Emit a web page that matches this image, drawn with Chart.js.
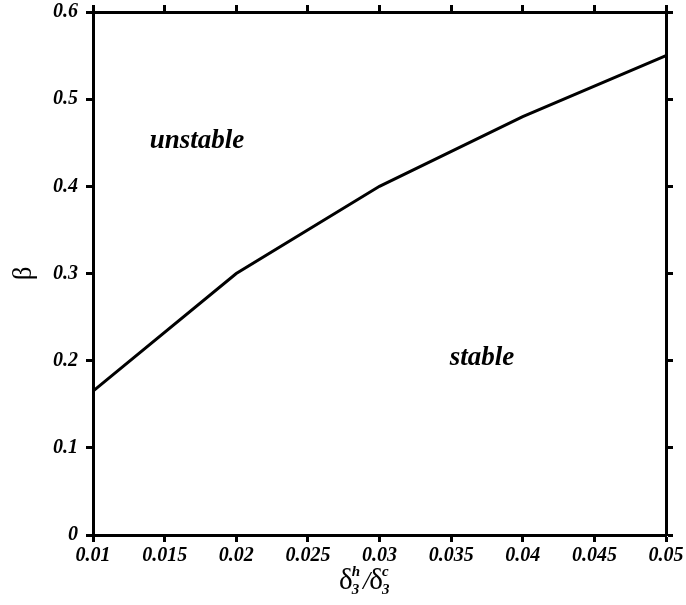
<!DOCTYPE html>
<html>
<head>
<meta charset="utf-8">
<script src="https://cdn.jsdelivr.net/npm/chart.js@4"></script>
<style>
  html, body { margin: 0; padding: 0; background: #fff; }
  #wrap { width: 686px; height: 605px; position: relative; }
</style>
</head>
<body>
<div id="wrap"><canvas id="chart"></canvas></div>
<script>
// boundary curve between the two regions
const ratioValues = [0.01, 0.02, 0.03, 0.04, 0.05];
const betaValues = [0.165, 0.30, 0.40, 0.48, 0.55];

const xTickValues = [0.01, 0.015, 0.02, 0.025, 0.03, 0.035, 0.04, 0.045, 0.05];
const xTickLabels = ['0.01', '0.015', '0.02', '0.025', '0.03', '0.035', '0.04', '0.045', '0.05'];
const yTickValues = [0, 0.1, 0.2, 0.3, 0.4, 0.5, 0.6];
const yTickLabels = ['0', '0.1', '0.2', '0.3', '0.4', '0.5', '0.6'];

const regionLabels = ['unstable', 'stable'];
const regionX = [0.01726, 0.03716];
const regionY = [0.452, 0.203];

const SERIF = "'Liberation Serif', 'Times New Roman', serif";
const tickFont = { family: SERIF, size: 20, style: 'italic', weight: 'bold' };

function setTicks(values) {
    return scale => { scale.ticks = values.map(v => ({ value: v })); };
}

// fixed box sizes, no extra label overflow padding
function fixSize(w, h) {
    return s => {
        if (w !== null) s.width = w;
        if (h !== null) s.height = h;
        s.paddingTop = 0;
        s.paddingBottom = 0;
        s.paddingLeft = 0;
        s.paddingRight = 0;
    };
}

const gridOpts = {
    drawOnChartArea: false,
    drawTicks: true,
    tickLength: 7,
    tickWidth: 3,
    tickColor: '#000'
};
const borderOpts = { display: true, color: '#000', width: 3 };

// region labels and the x title with sub/superscripts
const textPlugin = {
    id: 'textPlugin',
    afterDraw(chart) {
        const ctx = chart.ctx;
        const xs = chart.scales.x;
        const ys = chart.scales.y;
        ctx.save();
        ctx.fillStyle = '#000';
        ctx.textAlign = 'center';
        ctx.textBaseline = 'middle';
        ctx.font = `italic bold 27px ${SERIF}`;
        regionLabels.forEach((t, i) => {
            ctx.fillText(t, xs.getPixelForValue(regionX[i]), ys.getPixelForValue(regionY[i]));
        });

        // x axis title: δ3^h / δ3^c
        const base = xs.bottom - 16;
        let x = 339;
        ctx.textAlign = 'left';
        ctx.textBaseline = 'alphabetic';
        const big = `29px ${SERIF}`;
        const small = `italic bold 15px ${SERIF}`;
        function part(sym, sup, sub) {
            ctx.font = big;
            ctx.fillText(sym, x, base);
            x += ctx.measureText(sym).width - 1;
            ctx.font = small;
            ctx.fillText(sup, x, base - 13);
            ctx.fillText(sub, x, base + 5);
            x += Math.max(ctx.measureText(sup).width, ctx.measureText(sub).width);
        }
        part('δ', 'h', '3');
        x += 3;
        ctx.font = `italic 26px ${SERIF}`;
        ctx.fillText('/', x, base);
        x += ctx.measureText('/').width - 1;
        part('δ', 'c', '3');
        ctx.restore();
    }
};

new Chart(document.getElementById('chart'), {
    type: 'line',
    data: {
        datasets: [{
            data: ratioValues.map((v, i) => ({ x: v, y: betaValues[i] })),
            borderColor: '#000',
            borderWidth: 3,
            pointRadius: 0,
            tension: 0,
            fill: false
        }]
    },
    options: {
        responsive: true,
        maintainAspectRatio: false,
        animation: false,
        layout: { padding: 0 },
        plugins: {
            legend: { display: false },
            tooltip: { enabled: false }
        },
        scales: {
            x: {
                type: 'linear',
                position: 'bottom',
                min: 0.01,
                max: 0.05,
                afterBuildTicks: setTicks(xTickValues),
                afterFit: fixSize(null, 70),
                grid: gridOpts,
                border: borderOpts,
                ticks: {
                    color: '#000',
                    font: tickFont,
                    padding: 2,
                    maxRotation: 0,
                    autoSkip: false,
                    callback: (v, i) => xTickLabels[i]
                }
            },
            x2: {
                type: 'linear',
                position: 'top',
                min: 0.01,
                max: 0.05,
                afterBuildTicks: setTicks(xTickValues),
                afterFit: fixSize(null, 12),
                grid: gridOpts,
                border: borderOpts,
                ticks: { display: false }
            },
            y: {
                type: 'linear',
                position: 'left',
                min: 0,
                max: 0.6,
                afterBuildTicks: setTicks(yTickValues),
                afterFit: fixSize(93, null),
                grid: gridOpts,
                border: borderOpts,
                title: {
                    display: true,
                    text: 'β',
                    color: '#000',
                    font: { family: SERIF, size: 27 },
                    padding: { top: 8, bottom: 0 }
                },
                ticks: {
                    color: '#000',
                    font: tickFont,
                    padding: 8,
                    autoSkip: false,
                    callback: (v, i) => yTickLabels[i]
                }
            },
            y2: {
                type: 'linear',
                position: 'right',
                min: 0,
                max: 0.6,
                afterBuildTicks: setTicks(yTickValues),
                afterFit: fixSize(20, null),
                grid: gridOpts,
                border: borderOpts,
                ticks: { display: false }
            }
        }
    },
    plugins: [textPlugin]
});
</script>
</body>
</html>
